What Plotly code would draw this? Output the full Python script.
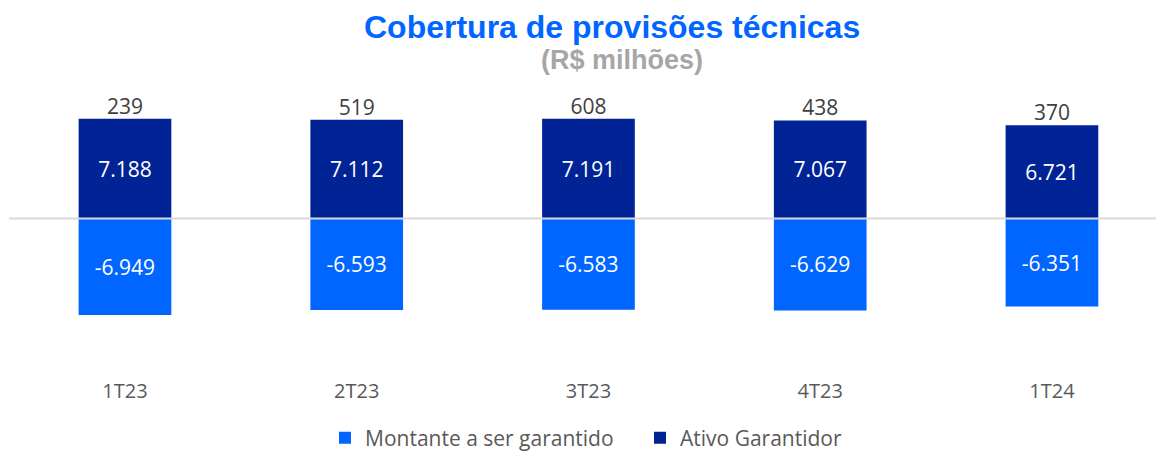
import plotly.graph_objects as go

categorias = ["1T23", "2T23", "3T23", "4T23", "1T24"]
ativo_garantidor = [7188, 7112, 7191, 7067, 6721]
montante_garantido = [-6949, -6593, -6583, -6629, -6351]
excedente = [a + m for a, m in zip(ativo_garantidor, montante_garantido)]

def fmt(v):
    s = f"{abs(v):,}".replace(",", ".")
    return ("-" if v < 0 else "") + s

DARK = "#002395"
BRIGHT = "#0066FF"
FONT = "Open Sans, Noto Sans, sans-serif"

fig = go.Figure()
fig.add_trace(go.Bar(
    x=categorias, y=montante_garantido, name="Montante a ser garantido",
    marker=dict(color=BRIGHT, line=dict(width=0)), width=0.4,
    text=[fmt(v) for v in montante_garantido], textposition="inside",
    insidetextanchor="middle", textangle=0,
    textfont=dict(family=FONT, size=21, color="white"),
))
fig.add_trace(go.Bar(
    x=categorias, y=ativo_garantidor, name="Ativo Garantidor",
    marker=dict(color=DARK, line=dict(width=0)), width=0.4,
    text=[fmt(v) for v in ativo_garantidor], textposition="inside",
    insidetextanchor="middle", textangle=0,
    textfont=dict(family=FONT, size=21, color="white"),
))
fig.add_trace(go.Scatter(
    x=categorias, y=ativo_garantidor, mode="text",
    text=[fmt(v) for v in excedente], textposition="top center",
    textfont=dict(family=FONT, size=21, color="#404040"),
    showlegend=False, hoverinfo="skip", cliponaxis=False,
))

fig.update_layout(
    width=1156, height=453,
    margin=dict(l=9, r=0, t=90, b=76),
    barmode="relative",
    plot_bgcolor="white", paper_bgcolor="white",
    showlegend=True,
    legend=dict(orientation="h", xref="paper", x=0.2755, xanchor="left",
                yref="container", y=0.033, yanchor="middle",
                font=dict(family=FONT, size=21, color="#595959"),
                entrywidth=270, entrywidthmode="pixels",
                traceorder="normal"),
    xaxis=dict(range=[-0.5005, 4.449], showgrid=False, showline=False, ticks="",
               tickfont=dict(family=FONT, size=20, color="#595959")),
    yaxis=dict(range=[-11428, 9265], showgrid=False, showticklabels=False,
               zeroline=False),
    shapes=[dict(type="line", xref="paper", x0=0, x1=1, yref="y", y0=0, y1=0,
                 line=dict(color="#D9D9D9", width=2), layer="above")],
    annotations=[
        dict(text="<b>Cobertura de provisões técnicas</b>", x=0.5257, y=1.2195,
             xref="paper", yref="paper", showarrow=False, xanchor="center", yanchor="middle",
             font=dict(family="Liberation Sans, Arial", size=32, color="#0066FF")),
        dict(text="<b>(R$ milhões)</b>", x=0.5344, y=1.1045,
             xref="paper", yref="paper", showarrow=False, xanchor="center", yanchor="middle",
             font=dict(family="Liberation Sans, Arial", size=27, color="#A6A6A6")),
    ],
)

fig.write_html("out.html", config={"displayModeBar": False},
               post_script="document.body.style.margin='0px';document.body.style.overflow='hidden';")
